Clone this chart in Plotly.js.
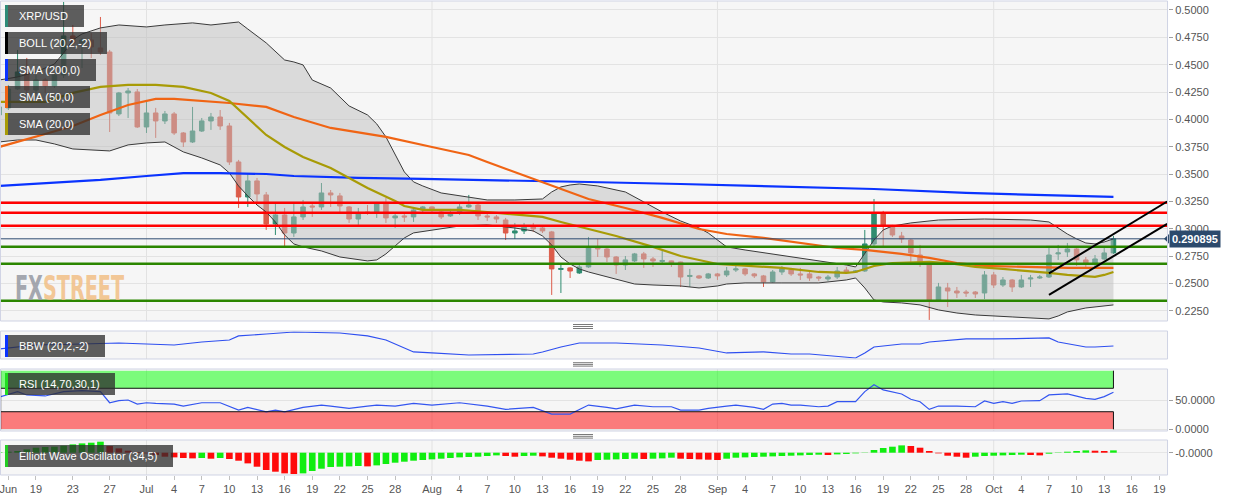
<!DOCTYPE html>
<html><head><meta charset="utf-8">
<script src="https://cdn.plot.ly/plotly-3.0.1.min.js"></script>
<style>
html,body{margin:0;padding:0;background:#fff;}
#wrap{position:relative;width:1244px;height:501px;overflow:hidden;}
#chart{position:absolute;left:0;top:0;width:1244px;height:501px;}
#wm{position:absolute;left:15px;top:271px;z-index:5;font-family:"DejaVu Sans",sans-serif;font-weight:bold;font-size:34px;line-height:1;transform-origin:0 0;transform:scaleX(0.565);white-space:nowrap;pointer-events:none;opacity:0.85;}
</style></head>
<body>
<div id="wrap"><div id="chart"></div><div id="wm"><span style="color:#969aa3">FX</span><span style="color:#f2bf86">STREET</span></div></div>
<script>
// ---------------- DATA ----------------
const firstDay = '2019-06-15';
const opens = [.4041,.4105,.4278,.4424,.4269,.4361,.4306,.4406,.4763,.4699,
.4726,.4653,.4616,.4050,.4242,.4251,.3931,.4059,.3986,.4050,
.3876,.3794,.3894,.3986,.4022,.3940,.3611,.3291,.3438,.3310,
.3045,.3127,.2962,.3109,.3209,.3200,.3328,.3301,.3200,.3090,
.3154,.3145,.3237,.3100,.3118,.3109,.3173,.3200,.3154,.3118,
.3145,.3200,.3218,.3118,.3109,.3081,.2962,.2981,.3017,.3008,
.2972,.2629,.2643,.2597,.2652,.2835,.2816,.2743,.2670,.2707,
.2771,.2725,.2702,.2707,.2697,.2565,.2570,.2551,.2588,.2579,
.2624,.2634,.2588,.2570,.2515,.2606,.2624,.2588,.2588,.2560,
.2542,.2560,.2624,.2606,.2615,.2862,.3145,.3017,.2935,.2898,
.2761,.2670,.2350,.2460,.2432,.2423,.2423,.2414,.2579,.2487,
.2533,.2469,.2542,.2551,.2560,.2771,.2789,.2816,.2716,.2688,
.2725,.2780];
const highs = [.4141,.4315,.4635,.4562,.4406,.4379,.4424,.5073,.4863,.4744,
.4790,.4936,.4635,.4251,.4287,.4278,.4178,.4105,.4077,.4068,
.3885,.4114,.4013,.4059,.4086,.3968,.3630,.3510,.3465,.3337,
.3237,.3191,.3237,.3264,.3237,.3419,.3355,.3328,.3209,.3191,
.3218,.3246,.3282,.3145,.3145,.3200,.3209,.3205,.3173,.3182,
.3237,.3310,.3246,.3145,.3127,.3100,.3054,.3054,.3054,.3027,
.2981,.2670,.2652,.2688,.2926,.2908,.2835,.2752,.2752,.2780,
.2789,.2743,.2798,.2710,.2700,.2634,.2579,.2597,.2597,.2652,
.2661,.2643,.2597,.2579,.2624,.2661,.2643,.2643,.2606,.2570,
.2579,.2652,.2652,.2624,.2990,.3273,.3164,.3036,.2972,.2908,
.2853,.2688,.2506,.2506,.2469,.2442,.2432,.2615,.2606,.2560,
.2542,.2579,.2579,.2579,.2825,.2853,.2871,.2825,.2743,.2761,
.2825,.2935];
const lows = [.4022,.4086,.4269,.4223,.4233,.4242,.4287,.4379,.4680,.4470,
.4561,.4589,.3885,.4031,.4013,.3922,.3876,.3831,.3958,.3858,
.3748,.3785,.3885,.3904,.3904,.3584,.3191,.3200,.3237,.2990,
.2944,.2835,.2926,.3081,.3109,.3173,.3200,.3154,.3054,.3036,
.3127,.3100,.3054,.3008,.3063,.3063,.3154,.3145,.3090,.3109,
.3127,.3191,.3081,.3072,.3054,.2898,.2908,.2953,.2972,.2962,
.2396,.2414,.2551,.2588,.2643,.2743,.2697,.2588,.2624,.2697,
.2643,.2652,.2670,.2652,.2469,.2469,.2542,.2542,.2533,.2560,
.2606,.2570,.2551,.2469,.2506,.2579,.2570,.2533,.2524,.2524,
.2524,.2542,.2588,.2597,.2606,.2844,.2835,.2926,.2871,.2697,
.2652,.2168,.2332,.2286,.2368,.2378,.2368,.2359,.2460,.2469,
.2423,.2460,.2469,.2542,.2551,.2716,.2743,.2661,.2652,.2652,
.2716,.2771];
const closes = [.4114,.4278,.4434,.4269,.4361,.4306,.4406,.4763,.4699,.4726,
.4662,.4616,.4059,.4242,.4260,.3931,.4059,.3986,.4050,.3876,
.3794,.3894,.3986,.4022,.3940,.3611,.3291,.3438,.3319,.3045,
.3127,.2962,.3109,.3200,.3200,.3328,.3310,.3209,.3090,.3145,
.3145,.3227,.3100,.3118,.3109,.3173,.3200,.3173,.3109,.3145,
.3200,.3218,.3118,.3109,.3090,.2962,.2981,.3017,.2999,.2981,
.2634,.2638,.2615,.2652,.2835,.2816,.2743,.2670,.2716,.2771,
.2725,.2707,.2711,.2688,.2560,.2574,.2551,.2588,.2570,.2615,
.2634,.2588,.2570,.2515,.2606,.2634,.2588,.2579,.2551,.2551,
.2560,.2615,.2606,.2615,.2862,.3145,.3022,.2944,.2908,.2780,
.2697,.2350,.2469,.2432,.2414,.2414,.2405,.2579,.2487,.2533,
.2469,.2533,.2551,.2560,.2761,.2780,.2816,.2716,.2688,.2725,
.2780,.290895];

const bollUpper = [['2019-06-15',.4360],['2019-06-17',.4388],['2019-06-19',.4434],['2019-06-20',.4470],['2019-06-21',.4506],['2019-06-22',.4607],['2019-06-23',.4726],['2019-06-24',.4781],['2019-06-26',.4836],['2019-06-28',.4863],['2019-07-01',.4845],['2019-07-03',.4863],['2019-07-06',.4882],['2019-07-08',.4863],['2019-07-11',.4890],['2019-07-12',.4826],['2019-07-13',.4763],['2019-07-14',.4699],['2019-07-16',.4543],['2019-07-17',.4525],['2019-07-18',.4498],['2019-07-19',.4360],['2019-07-21',.4287],['2019-07-23',.4123],['2019-07-25',.4041],['2019-07-26',.3959],['2019-07-27',.3840],['2019-07-28',.3675],['2019-07-29',.3520],['2019-07-30',.3429],['2019-07-31',.3392],['2019-08-02',.3328],['2019-08-05',.3292],['2019-08-07',.3264],['2019-08-10',.3264],['2019-08-13',.3273],['2019-08-14',.3337],['2019-08-15',.3383],['2019-08-16',.3401],['2019-08-17',.3410],['2019-08-19',.3392],['2019-08-21',.3355],['2019-08-22',.3337],['2019-08-24',.3246],['2019-08-26',.3154],['2019-08-28',.3072],['2019-08-30',.3008],['2019-08-31',.2962],['2019-09-01',.2898],['2019-09-02',.2835],['2019-09-04',.2807],['2019-09-07',.2771],['2019-09-10',.2734],['2019-09-13',.2697],['2019-09-15',.2670],['2019-09-16',.2652],['2019-09-17',.2771],['2019-09-18',.2898],['2019-09-19',.2990],['2019-09-20',.3026],['2019-09-22',.3054],['2019-09-25',.3081],['2019-09-30',.3090],['2019-10-05',.3081],['2019-10-07',.3063],['2019-10-08',.3008],['2019-10-09',.2953],['2019-10-10',.2908],['2019-10-11',.2871],['2019-10-12',.2862],['2019-10-13',.2880],['2019-10-14',.2908]];
const bollLower = [['2019-06-15',.3794],['2019-06-17',.3812],['2019-06-19',.3812],['2019-06-21',.3776],['2019-06-23',.3730],['2019-06-27',.3712],['2019-06-29',.3767],['2019-07-01',.3785],['2019-07-03',.3794],['2019-07-04',.3748],['2019-07-05',.3703],['2019-07-07',.3648],['2019-07-09',.3584],['2019-07-10',.3511],['2019-07-11',.3392],['2019-07-12',.3301],['2019-07-13',.3218],['2019-07-14',.3154],['2019-07-15',.3063],['2019-07-16',.2944],['2019-07-17',.2862],['2019-07-18',.2835],['2019-07-20',.2798],['2019-07-22',.2743],['2019-07-25',.2707],['2019-07-26',.2716],['2019-07-27',.2771],['2019-07-28',.2844],['2019-07-29',.2917],['2019-07-30',.2963],['2019-08-01',.2990],['2019-08-04',.3026],['2019-08-07',.3036],['2019-08-10',.3008],['2019-08-12',.2981],['2019-08-13',.2935],['2019-08-14',.2853],['2019-08-15',.2743],['2019-08-16',.2679],['2019-08-17',.2634],['2019-08-18',.2606],['2019-08-20',.2560],['2019-08-23',.2496],['2019-08-25',.2487],['2019-08-28',.2478],['2019-08-30',.2460],['2019-09-01',.2478],['2019-09-02',.2496],['2019-09-04',.2506],['2019-09-08',.2506],['2019-09-12',.2506],['2019-09-15',.2533],['2019-09-16',.2551],['2019-09-17',.2460],['2019-09-18',.2350],['2019-09-19',.2332],['2019-09-21',.2323],['2019-09-23',.2305],['2019-09-25',.2259],['2019-09-27',.2231],['2019-09-29',.2213],['2019-10-03',.2195],['2019-10-06',.2186],['2019-10-07',.2177],['2019-10-08',.2204],['2019-10-09',.2241],['2019-10-11',.2277],['2019-10-14',.2305]];
const sma20 = [['2019-06-15',.4160],['2019-06-20',.4160],['2019-06-23',.4242],['2019-06-26',.4297],['2019-06-29',.4315],['2019-07-02',.4315],['2019-07-05',.4297],['2019-07-08',.4242],['2019-07-10',.4169],['2019-07-12',.4013],['2019-07-14',.3858],['2019-07-16',.3748],['2019-07-18',.3657],['2019-07-21',.3556],['2019-07-25',.3374],['2019-07-28',.3255],['2019-07-29',.3209],['2019-07-31',.3173],['2019-08-04',.3173],['2019-08-07',.3154],['2019-08-11',.3127],['2019-08-13',.3109],['2019-08-15',.3063],['2019-08-18',.2999],['2019-08-21',.2935],['2019-08-25',.2835],['2019-08-28',.2752],['2019-09-01',.2679],['2019-09-04',.2661],['2019-09-08',.2643],['2019-09-12',.2606],['2019-09-15',.2597],['2019-09-16',.2606],['2019-09-17',.2634],['2019-09-18',.2661],['2019-09-20',.2688],['2019-09-24',.2698],['2019-09-26',.2688],['2019-09-29',.2652],['2019-10-02',.2634],['2019-10-05',.2615],['2019-10-07',.2597],['2019-10-09',.2579],['2019-10-12',.2561],['2019-10-13',.2579],['2019-10-14',.2606]];
const sma50 = [['2019-06-15',.3748],['2019-06-17',.3794],['2019-06-20',.3867],['2019-06-23',.3940],['2019-06-26',.4041],['2019-06-29',.4132],['2019-07-02',.4187],['2019-07-04',.4187],['2019-07-07',.4169],['2019-07-10',.4150],['2019-07-14',.4114],['2019-07-17',.4022],['2019-07-21',.3922],['2019-07-27',.3840],['2019-08-01',.3748],['2019-08-05',.3675],['2019-08-07',.3611],['2019-08-10',.3520],['2019-08-13',.3429],['2019-08-15',.3365],['2019-08-18',.3273],['2019-08-22',.3191],['2019-08-26',.3100],['2019-08-30',.2999],['2019-09-02',.2953],['2019-09-06',.2917],['2019-09-10',.2871],['2019-09-14',.2825],['2019-09-17',.2807],['2019-09-21',.2771],['2019-09-24',.2734],['2019-09-27',.2688],['2019-09-30',.2661],['2019-10-04',.2652],['2019-10-09',.2643],['2019-10-14',.2643]];
const sma200 = [['2019-06-15',.3392],['2019-06-20',.3419],['2019-06-26',.3447],['2019-07-01',.3483],['2019-07-05',.3510],['2019-07-09',.3510],['2019-07-14',.3501],['2019-07-17',.3483],['2019-07-24',.3465],['2019-07-31',.3456],['2019-08-07',.3447],['2019-08-18',.3428],['2019-08-28',.3410],['2019-09-08',.3383],['2019-09-18',.3364],['2019-09-28',.3328],['2019-10-05',.3310],['2019-10-14',.3292]];
const bbw = [['2019-06-15',.180],['2019-06-19',.243],['2019-06-24',.259],['2019-06-28',.275],['2019-07-04',.243],['2019-07-07',.291],['2019-07-10',.323],['2019-07-11',.387],['2019-07-14',.418],['2019-07-17',.450],['2019-07-22',.434],['2019-07-25',.387],['2019-07-27',.323],['2019-07-29',.195],['2019-07-30',.132],['2019-08-01',.116],['2019-08-05',.084],['2019-08-12',.100],['2019-08-13',.132],['2019-08-15',.211],['2019-08-17',.275],['2019-08-21',.275],['2019-08-26',.243],['2019-08-30',.195],['2019-09-02',.116],['2019-09-06',.132],['2019-09-09',.100],['2019-09-11',.100],['2019-09-16',.036],['2019-09-17',.116],['2019-09-18',.211],['2019-09-21',.259],['2019-09-23',.259],['2019-09-24',.291],['2019-09-28',.339],['2019-10-01',.339],['2019-10-07',.355],['2019-10-08',.291],['2019-10-11',.211],['2019-10-12',.211],['2019-10-14',.227]];
const rsi = [['2019-06-15',54.7],['2019-06-17',64.3],['2019-06-18',58.6],['2019-06-20',56.9],['2019-06-22',64.3],['2019-06-24',66.0],['2019-06-26',64.3],['2019-06-27',45.3],['2019-06-28',48.8],['2019-06-29',50.0],['2019-06-30',43.1],['2019-07-01',45.3],['2019-07-02',44.3],['2019-07-04',43.1],['2019-07-05',39.7],['2019-07-07',45.3],['2019-07-09',45.3],['2019-07-11',32.8],['2019-07-12',37.4],['2019-07-14',29.9],['2019-07-15',32.8],['2019-07-16',29.9],['2019-07-18',37.4],['2019-07-20',41.4],['2019-07-21',39.7],['2019-07-23',35.7],['2019-07-25',39.7],['2019-07-26',41.4],['2019-07-28',39.7],['2019-07-30',44.3],['2019-08-01',41.4],['2019-08-04',45.3],['2019-08-07',39.7],['2019-08-09',34.0],['2019-08-12',37.4],['2019-08-14',25.9],['2019-08-16',25.9],['2019-08-18',41.4],['2019-08-20',37.4],['2019-08-21',35.0],['2019-08-23',41.4],['2019-08-25',38.5],['2019-08-27',38.5],['2019-08-28',32.8],['2019-08-30',32.8],['2019-08-31',35.7],['2019-09-02',39.7],['2019-09-03',41.4],['2019-09-05',37.4],['2019-09-06',34.0],['2019-09-07',43.1],['2019-09-08',44.3],['2019-09-09',41.4],['2019-09-10',41.4],['2019-09-12',38.5],['2019-09-13',39.7],['2019-09-14',47.1],['2019-09-16',47.1],['2019-09-17',64.3],['2019-09-18',75.9],['2019-09-19',67.2],['2019-09-21',60.3],['2019-09-22',51.2],['2019-09-23',47.1],['2019-09-24',34.0],['2019-09-25',39.7],['2019-09-27',39.7],['2019-09-29',38.5],['2019-09-30',48.3],['2019-10-01',44.3],['2019-10-02',47.1],['2019-10-03',44.3],['2019-10-04',48.3],['2019-10-06',48.8],['2019-10-07',58.6],['2019-10-09',60.3],['2019-10-11',52.9],['2019-10-12',51.2],['2019-10-13',55.7],['2019-10-14',63.3]];
const ewo = [.002,.004,.0067,.0133,.020,.0227,.024,.028,.0333,.0373,
.040,.044,.0267,.0173,.008,.0027,-.0027,-.0093,-.016,-.0187,
-.0213,-.0227,-.0213,-.024,-.0213,-.0253,-.032,-.0427,-.056,-.0693,
-.076,-.0827,-.0853,-.0827,-.0733,-.064,-.0573,-.056,-.0547,-.0533,
-.0547,-.0507,-.0453,-.040,-.036,-.032,-.0293,-.0267,-.024,-.0213,
-.0187,-.0173,-.016,-.0133,-.0107,-.0133,-.016,-.0133,-.012,-.0147,
-.020,-.024,-.028,-.032,-.0347,-.0293,-.028,-.0267,-.0253,-.024,
-.0253,-.024,-.0227,-.020,-.024,-.0253,-.0267,-.028,-.0293,-.024,
-.020,-.0187,-.0173,-.016,-.0147,-.0133,-.012,-.0107,-.0093,-.008,
-.0093,-.0067,-.0053,-.0027,-.001,.0107,.0187,.024,.0293,.0267,
.020,.0067,-.0027,-.012,-.016,-.020,-.016,-.0133,-.012,-.0107,
-.0093,-.008,-.0093,-.0107,-.004,-.0013,.004,.0067,.0093,.008,
.0067,.0093];
const resistanceLevels = [0.3239, 0.3148, 0.3029];
const supportLevels = [0.2837, 0.2682, 0.2344];
const lastPrice = 0.290895;
const trendLines = [[['2019-10-07',0.2594],['2019-10-19 20:00',0.3250]],
                    [['2019-10-07',0.2396],['2019-10-19 20:00',0.3045]]];
const monthStarts = ['2019-07-01','2019-08-01','2019-09-01','2019-10-01'];
const tickDates = ['2019-06-16','2019-06-19','2019-06-23','2019-06-27','2019-07-01','2019-07-04','2019-07-07','2019-07-10','2019-07-13','2019-07-16','2019-07-19','2019-07-22','2019-07-25','2019-07-28','2019-08-01','2019-08-04','2019-08-07','2019-08-10','2019-08-13','2019-08-16','2019-08-19','2019-08-22','2019-08-25','2019-08-28','2019-09-01','2019-09-04','2019-09-07','2019-09-10','2019-09-13','2019-09-16','2019-09-19','2019-09-22','2019-09-25','2019-09-28','2019-10-01','2019-10-04','2019-10-07','2019-10-10','2019-10-13','2019-10-16','2019-10-19'];
const tickLabels = ['Jun','19','23','27','Jul','4','7','10','13','16','19','22','25','28','Aug','4','7','10','13','16','19','22','25','28','Sep','4','7','10','13','16','19','22','25','28','Oct','4','7','10','13','16','19'];
const priceTicks = [0.225,0.25,0.275,0.30,0.325,0.35,0.375,0.40,0.425,0.45,0.475,0.50];
const legendMain = [['XRP/USD','#2e8b77'],['BOLL (20,2,-2)','#000000'],['SMA (200,0)','#0a33ff'],['SMA (50,0)','#f06414'],['SMA (20,0)','#a89b06']];

// ---------------- BUILD ----------------
const start = new Date(firstDay + 'T00:00:00Z');
const dates = opens.map((_, i) => new Date(start.getTime() + i * 86400000).toISOString().slice(0, 10));
const lastDate = dates[dates.length - 1];
const xs = a => a.map(p => p[0]);
const ys = a => a.map(p => p[1]);

const PW = 1168, T = 1, B = 475, PH = B - T;
const px = x => x / PW;             // page px -> paper x
const py = y => (B - y) / PH;       // page px -> paper y
const D_MAIN = [py(321), 1], D_BBW = [py(359), py(331)], D_RSI = [py(431), py(369)], D_EWO = [0, py(440)];

const ewoColors = ewo.map((v, i) => (i === 0 || v >= ewo[i - 1]) ? '#10ee10' : '#ff0a0a');

const traces = [
  {type:'candlestick', x:dates, open:opens, high:highs, low:lows, close:closes, xaxis:'x', yaxis:'y',
   increasing:{line:{color:'#2e8c70', width:1}, fillcolor:'#2e8c70'},
   decreasing:{line:{color:'#dc5c4a', width:1}, fillcolor:'#dc5c4a'},
   whiskerwidth:0, hoverinfo:'skip'},
  {type:'scatter', mode:'lines', x:xs(bollUpper), y:ys(bollUpper), xaxis:'x', yaxis:'y', line:{color:'#3a3a3a', width:1}, hoverinfo:'skip'},
  {type:'scatter', mode:'lines', x:xs(bollLower), y:ys(bollLower), xaxis:'x', yaxis:'y', line:{color:'#3a3a3a', width:1}, fill:'tonexty', fillcolor:'rgba(190,190,190,0.5)', hoverinfo:'skip'},
  {type:'scatter', mode:'lines', x:xs(sma200), y:ys(sma200), xaxis:'x', yaxis:'y', line:{color:'#0a33ff', width:2.2}, hoverinfo:'skip'},
  {type:'scatter', mode:'lines', x:xs(sma50), y:ys(sma50), xaxis:'x', yaxis:'y', line:{color:'#f06414', width:2.2}, hoverinfo:'skip'},
  {type:'scatter', mode:'lines', x:xs(sma20), y:ys(sma20), xaxis:'x', yaxis:'y', line:{color:'#a89b06', width:2.2}, hoverinfo:'skip'},
  {type:'scatter', mode:'lines', x:xs(bbw), y:ys(bbw), xaxis:'x', yaxis:'y2', line:{color:'#2e4ff0', width:1.2}, hoverinfo:'skip'},
  {type:'scatter', mode:'lines', x:xs(rsi), y:ys(rsi), xaxis:'x', yaxis:'y3', line:{color:'#3355f0', width:1.2}, hoverinfo:'skip'},
  {type:'bar', x:dates, y:ewo, xaxis:'x', yaxis:'y4', marker:{color:ewoColors, line:{width:0}}, hoverinfo:'skip'}
];

const shapes = [];
// month grid lines
monthStarts.forEach(d => [D_MAIN, D_BBW, D_RSI, D_EWO].forEach(dom => shapes.push({type:'line', xref:'x', yref:'paper', x0:d, x1:d, y0:dom[0], y1:dom[1], line:{color:'#e2e2e2', width:1}, layer:'below'})));
// RSI zones
shapes.push({type:'rect', xref:'x', yref:'y3', x0:dates[0], x1:lastDate, y0:70, y1:100, fillcolor:'rgba(0,255,0,0.5)', line:{width:0}, layer:'below'});
shapes.push({type:'rect', xref:'x', yref:'y3', x0:dates[0], x1:lastDate, y0:0, y1:30, fillcolor:'rgba(255,0,0,0.5)', line:{width:0}, layer:'below'});
[[70,70],[30,30]].forEach(v => shapes.push({type:'line', xref:'x', yref:'y3', x0:dates[0], x1:lastDate, y0:v[0], y1:v[1], line:{color:'#111', width:1}}));
[[70,100],[0,30]].forEach(v => shapes.push({type:'line', xref:'x', yref:'y3', x0:lastDate, x1:lastDate, y0:v[0], y1:v[1], line:{color:'#111', width:1}}));
shapes.push({type:'line', xref:'paper', yref:'y3', x0:0.0006, x1:0.0006, y0:0, y1:100, line:{color:'#333', width:1}});
// levels
resistanceLevels.forEach(v => shapes.push({type:'line', xref:'paper', yref:'y', x0:0, x1:1, y0:v, y1:v, line:{color:'#ff0000', width:2.5}}));
supportLevels.forEach(v => shapes.push({type:'line', xref:'paper', yref:'y', x0:0, x1:1, y0:v, y1:v, line:{color:'#2b8600', width:2.5}}));
shapes.push({type:'line', xref:'paper', yref:'y', x0:0, x1:1, y0:lastPrice, y1:lastPrice, line:{color:'#2d4b70', width:1}});
// trend lines
trendLines.forEach(t => shapes.push({type:'line', xref:'x', yref:'y', x0:t[0][0], y0:t[0][1], x1:t[1][0], y1:t[1][1], line:{color:'#000', width:2}}));
// price tag arrow
shapes.push({type:'path', xref:'paper', yref:'y', path:`M ${px(1164)} ${lastPrice} L ${px(1169)} ${lastPrice+0.0045} L ${px(1169)} ${lastPrice-0.0045} Z`, fillcolor:'#2c4a6c', line:{width:0}});
// panel borders
[D_MAIN, D_BBW, D_RSI, D_EWO].forEach(dom => shapes.push({type:'rect', xref:'paper', yref:'paper', x0:0.0004, x1:0.9996, y0:dom[0], y1:dom[1], line:{color:'#cfd3e4', width:1}, fillcolor:'rgba(0,0,0,0)'}));
// grips
[[324.5,326.5,328.5],[362.7,364.4,366.1],[434.5,436.3,438.1]].forEach(g => g.forEach(y => shapes.push({type:'line', xref:'paper', yref:'paper', x0:px(573), x1:px(593), y0:py(y), y1:py(y), line:{color:'#7a7a7a', width:1}})));

const annotations = [];
function legendBox(label, color, top, bottom, right) {
  shapes.push({type:'rect', xref:'paper', yref:'paper', x0:px(5), x1:px(right), y0:py(bottom), y1:py(top), fillcolor:'rgba(45,45,45,0.76)', line:{width:0}, layer:'above'});
  shapes.push({type:'rect', xref:'paper', yref:'paper', x0:px(5), x1:px(8), y0:py(bottom), y1:py(top), fillcolor:color, line:{width:0}, layer:'above'});
  annotations.push({xref:'paper', yref:'paper', x:px(17), y:py((top + bottom) / 2), xanchor:'left', yanchor:'middle', text:label, showarrow:false, font:{color:'#ffffff', size:11}});
}
const mainTops = [5, 32, 59, 86, 113], mainRights = [84, 107, 96, 90, 90];
legendMain.forEach((l, k) => legendBox(l[0], l[1], mainTops[k], mainTops[k] + 22, mainRights[k]));
legendBox('BBW (20,2,-2)', '#0a33ff', 335, 357, 105);
legendBox('RSI (14,70,30,1)', '#22dd22', 373, 395, 115);
legendBox('Elliott Wave Oscillator (34,5)', '#22cc22', 445, 467, 173);
annotations.push({xref:'paper', yref:'y', x:1, y:lastPrice, xanchor:'left', yanchor:'middle', xshift:1, text:'<b>' + lastPrice.toFixed(6) + '</b>', showarrow:false, bgcolor:'#2c4a6c', borderpad:2, font:{color:'#ffffff', size:11}});

const axCommon = {side:'right', anchor:'x', zeroline:false, showline:false, ticks:'outside', ticklen:4, tickcolor:'#a0a0a0', fixedrange:true, tickfont:{size:11, color:'#555'}};
const layout = {
  width:1244, height:501,
  margin:{l:0, r:1244 - PW, t:T, b:501 - B, pad:0},
  paper_bgcolor:'#ffffff', plot_bgcolor:'#f6f6f6',
  showlegend:false, bargap:0.28, hovermode:false,
  font:{family:'"Liberation Sans", Arial, sans-serif', size:11, color:'#555'},
  xaxis:{type:'date', domain:[0,1], anchor:'y4', range:['2019-06-15 02:13','2019-10-19 22:12'],
         tickvals:tickDates, ticktext:tickLabels, ticks:'outside', ticklen:4, tickcolor:'#c0c0c0',
         ticklabeloverflow:'allow',
         showgrid:false, zeroline:false, showline:false, rangeslider:{visible:false}, fixedrange:true,
         tickfont:{size:11, color:'#555'}},
  yaxis:Object.assign({}, axCommon, {domain:D_MAIN, range:[0.2158, 0.5082], tickvals:priceTicks, tickformat:'.4f', showgrid:true, gridcolor:'#e3e3e3'}),
  yaxis2:Object.assign({}, axCommon, {domain:D_BBW, range:[0.02, 0.466], showticklabels:false, ticks:'', showgrid:false}),
  yaxis3:Object.assign({}, axCommon, {domain:D_RSI, range:[-2.9, 102.9], tickvals:[0, 50], ticktext:['0.0000', '50.0000'], showgrid:true, gridcolor:'#e3e3e3'}),
  yaxis4:Object.assign({}, axCommon, {domain:D_EWO, range:[-0.0892, 0.0508], tickvals:[0], ticktext:['-0.0000'], showgrid:true, gridcolor:'#e6e6e6'}),
  shapes:shapes, annotations:annotations
};
Plotly.newPlot('chart', traces, layout, {staticPlot:true, displayModeBar:false});
</script>
</body></html>
